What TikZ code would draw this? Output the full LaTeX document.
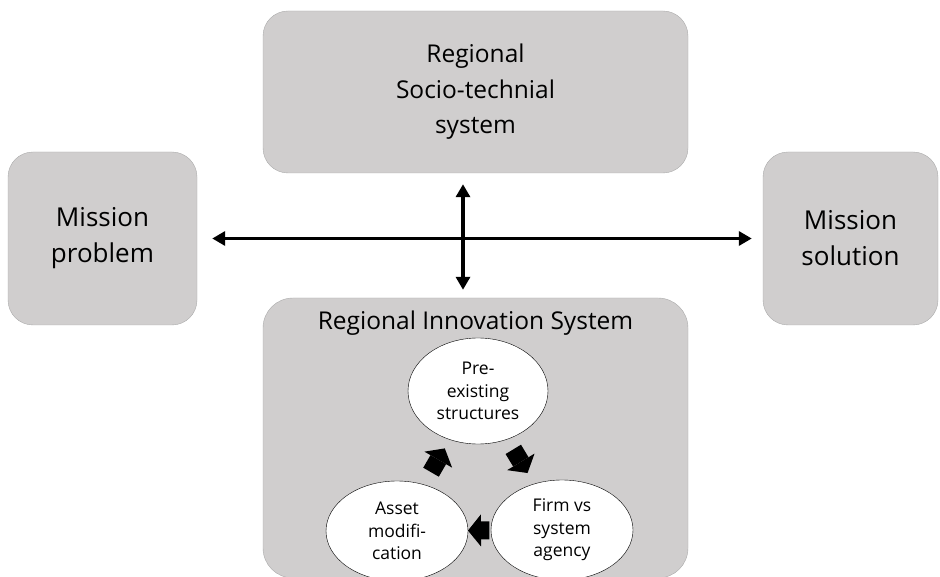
\documentclass[tikz,border=0pt]{standalone}
\usepackage{fontspec}
\setmainfont{Open Sans}
\usetikzlibrary{arrows.meta,calc,shapes.geometric}
\definecolor{boxgray}{HTML}{D0CECE}
\definecolor{boxline}{HTML}{ABABAB}

\begin{document}
\begin{tikzpicture}[x=1pt,y=-1pt,
  box/.style={draw=boxline,fill=boxgray,rounded corners=25pt,inner sep=0pt,
    align=center,font=\fontsize{24.5}{35.5}\selectfont},
  blob/.style={ellipse,draw=black,fill=white,inner sep=0pt,
    align=center,font=\fontsize{17.5}{22.5}\selectfont},
  bigarrow/.style={line width=3.5pt,
    {Triangle[width=14pt,length=13pt]}-{Triangle[width=14pt,length=13pt]}},
  blockarrow/.style={line width=18pt,
    -{Triangle[width=32pt,length=13pt,line width=0pt]}}]
  \useasboundingbox (0,0) rectangle (940,577);

  \node[box,minimum width=425pt,minimum height=162pt] (rst) at (475.5,92)
    {Regional\\Socio-technial\\system};
  \node[box,minimum width=189pt,minimum height=173pt,
    font=\fontsize{26}{36}\selectfont] (prob) at (102.5,238.5)
    {Mission\\problem};
  \node[box,minimum width=175pt,minimum height=173pt,
    font=\fontsize{26}{36}\selectfont] (sol) at (850.5,238.5)
    {Mission\\solution};
  \node[box,minimum width=425pt,minimum height=280pt,rounded corners=30pt] (ris)
    at (475.5,438) {};
  \node[font=\fontsize{24.5}{35.5}\selectfont,inner sep=0pt] (ristitle)
    at (475.5,323) {Regional Innovation System};

  \draw [bigarrow,shorten <=15pt,shorten >=11pt] (prob) -- (sol);
  \draw [bigarrow,shorten <=11pt,shorten >=8pt]
    ([xshift=-12.5pt]rst.south) -- ([xshift=-12.5pt]ris.north);

  % the cycle inside the innovation system
  \node[blob,minimum width=140pt,minimum height=106pt] (pre) at (478,391)
    {Pre-\\existing\\structures};
  \node[blob,minimum width=142pt,minimum height=100pt] (asset) at (397,531)
    {Asset\\modifi-\\cation};
  \node[blob,minimum width=142pt,minimum height=100pt] (firm) at (562,530)
    {Firm vs\\system\\agency};

  \draw [blockarrow] ($(asset)!0.42!(pre)$) -- ($(asset)!0.59!(pre)$);
  \draw [blockarrow] ($(pre)!0.42!(firm)$) -- ($(pre)!0.59!(firm)$);
  \draw [blockarrow] ($(firm)!0.44!(asset)$) -- ($(firm)!0.57!(asset)$);
\end{tikzpicture}
\end{document}
